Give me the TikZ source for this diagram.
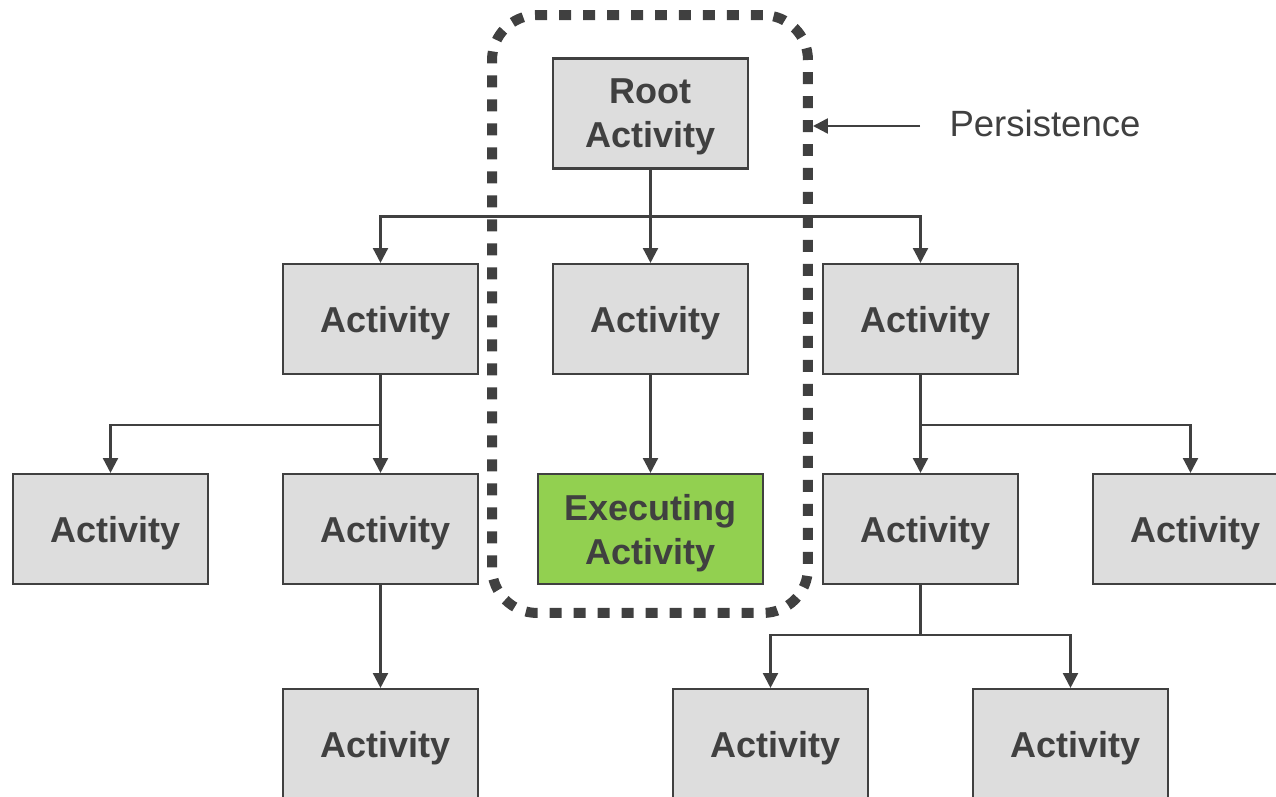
\documentclass[tikz,border=0pt]{standalone}
\usepackage{fontspec}
\setmainfont{Liberation Sans}
\usetikzlibrary{arrows.meta}
\definecolor{boxgray}{HTML}{DDDDDD}
\definecolor{linegray}{HTML}{404040}
\definecolor{execgreen}{HTML}{92D050}

\begin{document}
\begin{tikzpicture}
[x=0.02cm,y=-0.02cm,>={Triangle[length=8.5pt,width=8.5pt]},
 box/.style={draw=linegray,fill=boxgray,line width=1.2pt,minimum width=3.9cm,minimum height=2.2cm,text=linegray,text depth=0pt,align=center,font=\fontsize{20.5pt}{25pt}\selectfont\bfseries},
 act/.style={box,execute at begin node=\hspace*{5.6pt}},
 exec/.style={box,fill=execgreen,minimum width=4.5cm},
 link/.style={draw=linegray,line width=1.4pt,->},
 persist/.style={draw=linegray,line width=5.7pt,dash pattern=on 0.24cm off 0.24cm,rounded corners=0.9cm,minimum width=6.32cm,minimum height=11.96cm}]

\useasboundingbox (0,0) rectangle (1276,797);

% the boxes
\node[box] (root) at (650.5,113.5) {Root\\Activity};

\node[act] (a1) at (380.5,319) {Activity};
\node[act] (a2) at (650.5,319) {Activity};
\node[act] (a3) at (920.5,319) {Activity};

\node[act] (b1) at (110.5,529) {Activity};
\node[act] (b2) at (380.5,529) {Activity};
\node[exec] (exec) at (650.5,529) {Executing\\Activity};
\node[act] (b4) at (920.5,529) {Activity};
\node[act] (b5) at (1190.5,529) {Activity};

\node[act] (c1) at (380.5,744) {Activity};
\node[act] (c2) at (770.5,744) {Activity};
\node[act] (c3) at (1070.5,744) {Activity};

% the links
\draw[link] (root.south) -- ++(0,47) -| (a1.north);
\draw[link] (root.south) -- ++(0,47) -| (a3.north);
\draw[link] (root.south) -- (a2.north);

\draw[link] (a1.south) -- ++(0,50) -| (b1.north);
\draw[link] (a1.south) -- (b2.north);
\draw[link] (a2.south) -- (exec.north);
\draw[link] (a3.south) -- ++(0,50) -| (b5.north);
\draw[link] (a3.south) -- (b4.north);

\draw[link] (b2.south) -- (c1.north);
\draw[link] (b4.south) -- ++(0,50) -| (c2.north);
\draw[link] (b4.south) -- ++(0,50) -| (c3.north);

% the persisted part
\node[persist] (persist) at (650,314) {};
\node[text=linegray,font=\fontsize{20.8pt}{25pt}\selectfont] (perslabel) at (1045,123) {Persistence};
\coordinate (pers-tail) at (920,126);
\draw[link] (pers-tail) -- (pers-tail -| persist.east);

\end{tikzpicture}
\end{document}
